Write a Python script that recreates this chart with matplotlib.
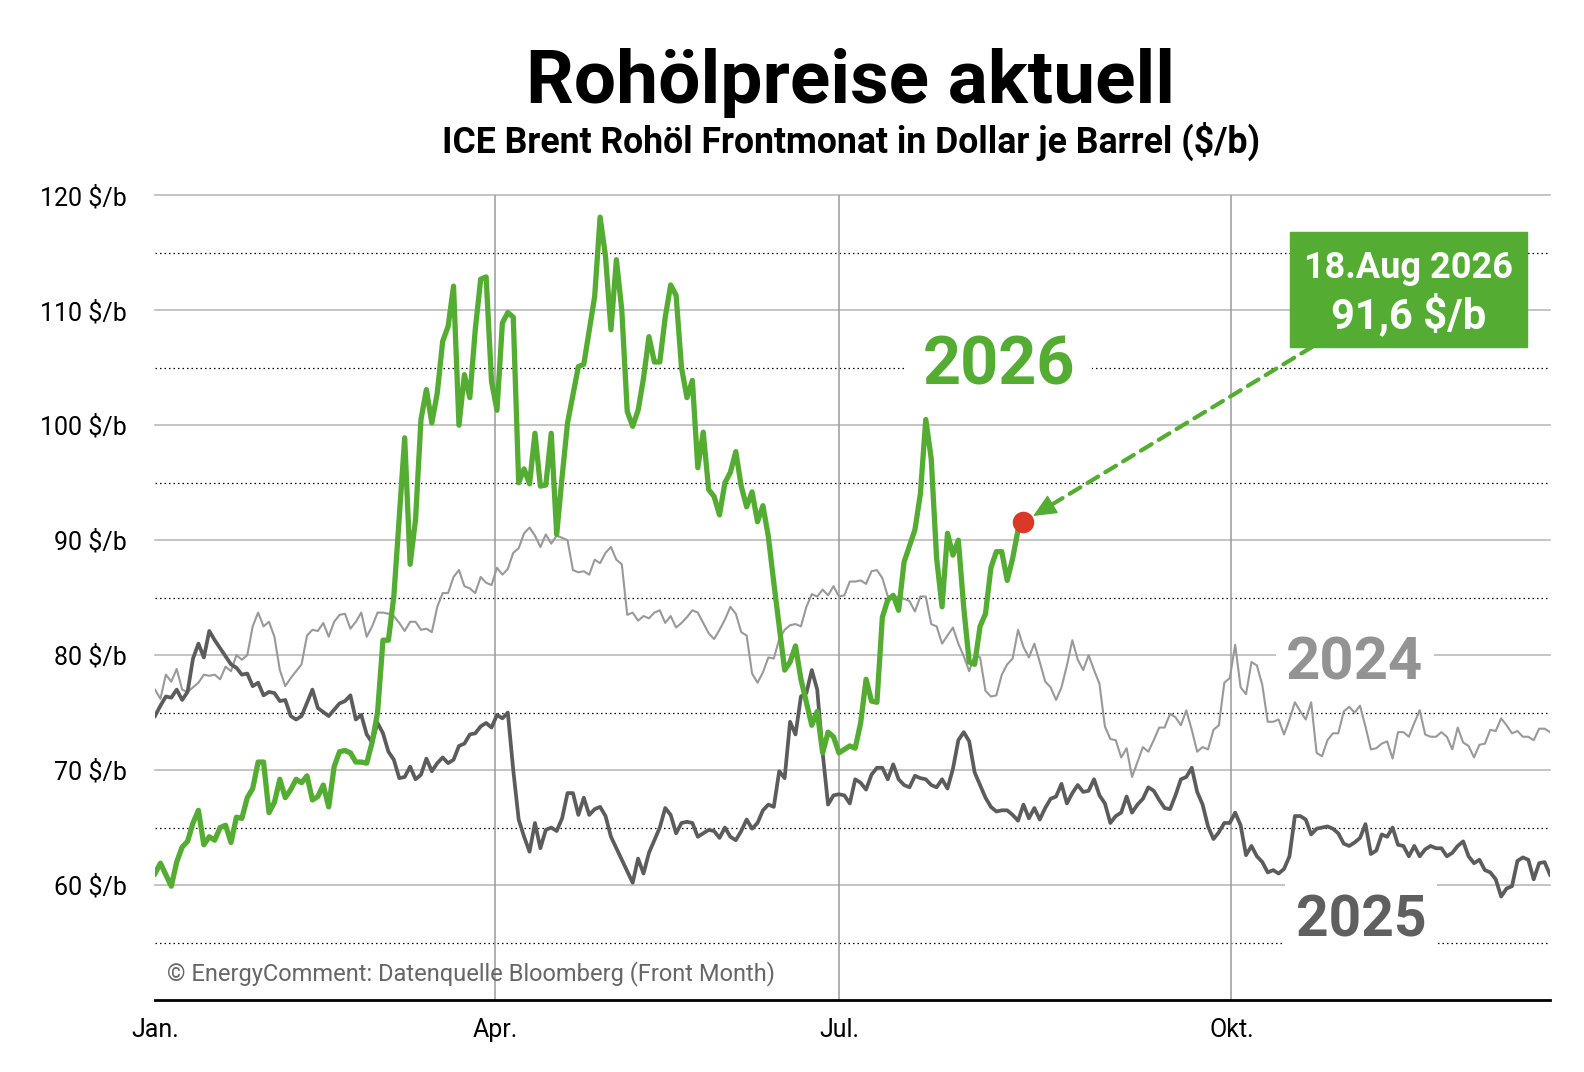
import matplotlib.pyplot as plt
from matplotlib.patches import Rectangle

plt.rcParams['font.family'] = ['Roboto', 'DejaVu Sans']

# Handelstage seit Jahresbeginn (0 = erster Handelstag) und Brent-Preise in $/b
tage_2026 = [0, 1, 3, 4, 5, 6, 7, 8, 9, 10, 11, 12, 13, 14, 15, 16, 17, 18, 19, 20,
             21, 22, 23, 24, 25, 26, 27, 28, 29, 30, 31, 32, 33, 34, 35, 36, 37, 38, 39, 40,
             41, 42, 43, 44, 46, 47, 48, 49, 50, 51, 52, 53, 54, 55, 56, 57, 58, 59, 60, 61,
             62, 63, 64, 65, 66, 67, 68, 69, 70, 71, 72, 73, 74, 75, 76, 78, 79, 81, 82, 83,
             84, 85, 86, 87, 88, 89, 90, 91, 92, 93, 94, 95, 96, 97, 98, 99, 100, 101, 102, 103,
             104, 105, 106, 107, 108, 109, 110, 111, 112, 113, 114, 116, 117, 118, 119, 121, 122, 123, 124, 125,
             126, 128, 129, 130, 131, 132, 133, 134, 135, 136, 137, 138, 139, 140, 141, 142, 143, 144, 145, 146,
             147, 148, 149, 150, 151, 152, 153, 154, 155, 156, 157, 158, 159, 160]
preis_2026 = [61.0, 61.9, 59.9, 62.0, 63.3, 63.8, 65.4, 66.5, 63.5, 64.2, 63.9, 65.0, 65.2, 63.7, 65.9, 65.8, 67.6, 68.4, 70.7, 70.7,
              66.3, 67.2, 69.2, 67.6, 68.3, 69.2, 68.9, 69.5, 67.4, 67.7, 68.7, 66.8, 70.3, 71.6, 71.7, 71.5, 70.7, 70.7, 70.6, 72.4,
              75.0, 81.3, 81.3, 85.1, 98.9, 87.9, 91.8, 100.5, 103.1, 100.2, 102.8, 107.3, 108.6, 112.1, 100.0, 104.4, 102.4, 108.3, 112.7, 112.9,
              103.8, 101.3, 108.9, 109.8, 109.4, 95.0, 96.2, 94.9, 99.3, 94.7, 94.8, 99.3, 90.5, 95.5, 100.2, 105.1, 105.3, 111.2, 118.1, 114.7,
              108.3, 114.4, 110.0, 101.2, 99.9, 101.3, 104.1, 107.7, 105.5, 105.5, 109.4, 112.2, 111.3, 105.0, 102.4, 103.9, 96.3, 99.4, 94.4, 93.8,
              92.2, 95.0, 95.9, 97.7, 94.7, 92.9, 94.2, 91.6, 93.0, 90.3, 86.3, 78.7, 79.4, 80.8, 77.9, 73.9, 75.1, 71.5, 73.3, 72.9,
              71.5, 72.1, 71.9, 74.1, 77.9, 76.0, 75.9, 83.3, 84.8, 85.2, 83.9, 88.1, 89.5, 90.9, 94.0, 100.5, 97.1, 88.4, 84.2, 90.6,
              88.7, 90.0, 84.1, 79.4, 79.2, 82.5, 83.6, 87.6, 89.0, 89.0, 86.5, 88.4, 90.9, 91.6]

tage_2025 = [0, 1, 2, 3, 4, 5, 6, 7, 8, 9, 10, 11, 12, 13, 14, 15, 16, 17, 18, 19,
             20, 21, 22, 23, 24, 25, 26, 27, 29, 30, 32, 34, 35, 36, 37, 38, 39, 40, 41, 42,
             43, 44, 45, 46, 47, 48, 49, 50, 51, 52, 53, 54, 55, 56, 57, 58, 59, 60, 61, 62,
             63, 64, 65, 66, 67, 68, 69, 70, 71, 72, 73, 74, 75, 76, 77, 78, 79, 80, 81, 82,
             83, 84, 85, 86, 87, 88, 89, 90, 91, 92, 93, 94, 95, 96, 97, 98, 99, 100, 101, 102,
             103, 104, 105, 106, 107, 108, 109, 110, 111, 112, 113, 114, 115, 116, 117, 118, 119, 120, 121, 122,
             123, 124, 125, 126, 127, 128, 129, 130, 131, 132, 133, 134, 135, 136, 137, 138, 139, 140, 141, 142,
             143, 144, 145, 146, 147, 148, 149, 150, 151, 152, 153, 154, 155, 156, 157, 158, 159, 160, 161, 162,
             163, 164, 165, 166, 167, 168, 169, 170, 171, 172, 173, 174, 175, 176, 177, 178, 179, 180, 181, 182,
             183, 184, 185, 186, 187, 188, 189, 190, 191, 192, 193, 194, 195, 196, 197, 198, 199, 200, 201, 202,
             203, 204, 205, 206, 207, 208, 209, 210, 211, 212, 213, 214, 215, 216, 217, 218, 219, 220, 221, 222,
             223, 224, 225, 226, 227, 228, 229, 230, 231, 232, 233, 234, 235, 236, 237, 238, 239, 240, 241, 242,
             243, 244, 245, 246, 247, 248, 249, 250, 251, 252, 253, 254, 255, 256, 257]
preis_2025 = [74.7, 75.6, 76.4, 76.3, 77.0, 76.1, 76.8, 79.7, 81.0, 79.8, 82.1, 81.3, 80.6, 79.9, 79.2, 78.9, 78.3, 78.4, 77.3, 77.6,
              76.5, 76.8, 76.7, 76.0, 76.1, 74.7, 74.4, 74.7, 77.0, 75.4, 74.7, 75.8, 76.0, 76.5, 74.4, 74.8, 73.1, 72.4, 74.1, 73.2,
              71.6, 70.9, 69.3, 69.4, 70.3, 69.2, 69.6, 71.0, 69.9, 70.6, 71.1, 70.6, 70.9, 72.1, 72.3, 73.1, 73.2, 73.8, 74.1, 73.7,
              74.8, 74.5, 75.0, 70.0, 65.7, 64.2, 62.9, 65.4, 63.2, 64.8, 65.0, 64.7, 65.8, 68.0, 68.0, 66.1, 67.6, 66.1, 66.6, 66.8,
              66.0, 64.2, 63.2, 62.2, 61.2, 60.2, 62.3, 61.0, 62.8, 63.9, 65.0, 66.7, 66.1, 64.5, 65.4, 65.5, 65.4, 64.2, 64.5, 64.8,
              64.7, 64.1, 65.0, 64.2, 63.9, 64.7, 65.7, 64.9, 65.4, 66.5, 67.0, 66.8, 69.9, 69.3, 74.2, 73.1, 76.4, 76.7, 78.7, 77.0,
              71.5, 67.0, 67.8, 67.9, 67.8, 67.1, 69.2, 68.9, 68.3, 69.6, 70.2, 70.2, 69.2, 70.5, 69.2, 68.7, 68.5, 69.5, 69.3, 69.2,
              68.7, 68.5, 69.2, 68.4, 70.1, 72.6, 73.3, 72.5, 69.8, 68.7, 67.6, 66.8, 66.4, 66.5, 66.5, 66.1, 65.6, 67.0, 65.8, 66.7,
              65.7, 66.7, 67.5, 67.7, 68.8, 67.1, 68.0, 68.7, 68.1, 68.2, 69.2, 67.8, 67.1, 65.4, 66.0, 66.3, 67.7, 66.3, 67.0, 67.5,
              68.5, 68.2, 67.4, 66.7, 66.6, 67.8, 69.2, 69.4, 70.2, 68.1, 67.0, 65.1, 64.0, 64.6, 65.4, 65.4, 66.3, 65.2, 62.6, 63.4,
              62.5, 62.0, 61.1, 61.3, 61.0, 61.4, 62.5, 66.0, 66.0, 65.7, 64.4, 64.9, 65.0, 65.1, 64.9, 64.5, 63.6, 63.4, 63.7, 64.1,
              65.3, 62.7, 63.0, 64.4, 64.2, 65.0, 63.5, 63.4, 62.5, 63.4, 62.5, 63.1, 63.4, 63.2, 63.2, 62.5, 62.8, 63.4, 63.8, 62.5,
              61.9, 62.2, 61.3, 61.1, 60.5, 59.0, 59.7, 59.9, 62.1, 62.4, 62.2, 60.5, 61.9, 62.0, 60.9]

tage_2024 = [0, 1, 2, 3, 4, 5, 6, 8, 9, 10, 11, 12, 13, 14, 15, 16, 17, 18, 19, 20,
             21, 22, 23, 24, 25, 26, 27, 28, 29, 30, 31, 32, 33, 34, 35, 36, 37, 38, 39, 40,
             41, 42, 43, 44, 45, 46, 47, 48, 49, 50, 51, 52, 53, 54, 55, 56, 57, 58, 59, 60,
             61, 62, 63, 64, 65, 66, 67, 68, 69, 70, 71, 72, 73, 74, 75, 76, 77, 78, 79, 80,
             81, 82, 83, 84, 85, 86, 87, 88, 89, 90, 91, 92, 93, 94, 95, 96, 97, 98, 99, 100,
             101, 102, 103, 104, 105, 106, 107, 108, 109, 110, 111, 112, 113, 114, 115, 116, 117, 118, 119, 120,
             121, 122, 123, 124, 125, 126, 127, 128, 129, 130, 131, 132, 133, 134, 135, 136, 137, 138, 139, 140,
             141, 142, 143, 144, 145, 146, 147, 148, 149, 150, 151, 152, 153, 154, 155, 156, 157, 158, 159, 160,
             161, 162, 163, 164, 165, 166, 167, 168, 169, 170, 171, 172, 173, 174, 175, 176, 177, 178, 179, 180,
             181, 182, 183, 184, 185, 186, 187, 188, 189, 190, 191, 192, 193, 194, 195, 196, 197, 198, 199, 200,
             201, 202, 203, 204, 205, 206, 207, 208, 209, 210, 211, 212, 213, 214, 215, 216, 217, 218, 219, 220,
             221, 222, 223, 224, 225, 226, 227, 228, 229, 230, 231, 232, 233, 234, 235, 236, 237, 238, 239, 240,
             241, 242, 243, 244, 245, 246, 247, 248, 249, 250, 251, 252, 253, 254, 255, 256, 257]
preis_2024 = [77.0, 76.2, 78.3, 77.7, 78.8, 77.0, 76.8, 77.6, 78.3, 78.2, 78.3, 77.9, 79.0, 78.6, 80.0, 79.6, 80.0, 82.5, 83.7, 82.5,
              82.9, 81.6, 78.7, 77.3, 78.0, 78.6, 79.2, 81.7, 82.2, 82.1, 82.8, 81.6, 82.9, 83.5, 83.6, 82.3, 82.9, 83.7, 81.6, 82.5,
              83.7, 83.7, 83.6, 83.4, 82.8, 82.1, 82.9, 82.9, 82.2, 82.3, 82.0, 84.2, 85.4, 85.4, 86.8, 87.4, 86.0, 85.8, 85.4, 86.8,
              86.3, 86.1, 87.6, 87.0, 87.5, 88.9, 89.3, 90.6, 91.1, 90.4, 89.4, 90.5, 89.7, 90.4, 90.2, 90.0, 87.4, 87.2, 87.3, 87.0,
              88.3, 88.0, 88.9, 89.4, 88.3, 87.9, 83.5, 83.7, 83.0, 83.4, 83.2, 83.7, 83.9, 82.8, 83.4, 82.4, 82.8, 83.3, 83.9, 83.7,
              82.8, 81.9, 81.4, 82.2, 83.1, 84.2, 83.6, 82.0, 81.7, 78.4, 77.6, 78.5, 79.8, 79.7, 81.4, 82.2, 82.6, 82.7, 82.5, 84.2,
              85.3, 85.1, 85.7, 85.2, 86.0, 85.1, 85.2, 86.4, 86.4, 86.5, 86.2, 87.3, 87.4, 86.7, 85.1, 85.2, 85.0, 84.9, 84.7, 83.8,
              85.1, 85.1, 82.7, 82.5, 81.0, 81.7, 82.4, 81.0, 79.9, 78.6, 80.0, 79.8, 76.9, 76.4, 76.5, 78.3, 79.2, 79.7, 82.2, 80.7,
              79.8, 81.0, 79.4, 77.7, 77.2, 76.1, 77.2, 79.1, 81.3, 79.6, 78.7, 80.0, 78.7, 77.5, 73.8, 72.7, 72.6, 71.1, 71.9, 69.4,
              70.7, 72.0, 71.6, 72.6, 73.7, 73.7, 74.9, 74.6, 73.9, 75.2, 73.5, 71.6, 72.0, 71.8, 73.5, 73.9, 77.6, 78.0, 80.9, 77.2,
              76.6, 79.4, 79.1, 77.4, 74.2, 74.2, 74.4, 73.1, 74.4, 75.9, 75.1, 74.4, 75.9, 71.5, 71.2, 72.6, 73.2, 73.2, 75.1, 75.5,
              75.0, 75.6, 73.8, 71.8, 71.9, 72.3, 72.5, 71.0, 73.3, 73.3, 72.9, 74.1, 75.2, 73.1, 72.9, 72.9, 73.3, 72.9, 71.8, 73.7,
              72.4, 72.1, 71.1, 72.2, 72.3, 73.5, 73.4, 74.5, 73.9, 73.2, 73.4, 72.9, 72.9, 72.6, 73.6, 73.6, 73.3]

monat_pos = [0, 62.7, 126.0, 198.3]
monat_txt = ['Jan.', 'Apr.', 'Jul.', 'Okt.']
y_werte = [60, 70, 80, 90, 100, 110, 120]
y_punktiert = [55, 65, 75, 85, 95, 105, 115]

stand_datum = '18.Aug 2026'
stand_preis = '91,6 $/b'

GRUEN = '#54ad32'
DUNKEL = '#5c5c5c'
HELL = '#999999'

W, H = 1584, 1072
fig = plt.figure(figsize=(W / 100, H / 100), dpi=100)
ax = fig.add_axes([155 / W, 1 - 1000 / H, (1550 - 155) / W, (1000 - 195.3) / H])
ax.set_xlim(0, 257)
ax.set_ylim(50, 120)

# Gitter: durchgezogen bei vollen 10ern, punktiert dazwischen
for y in y_werte:
    ax.axhline(y, color='#b4b4b4', lw=1.1, zorder=0.5, clip_on=False)
for y in y_punktiert:
    ax.axhline(y, color='black', lw=0.9, ls=(0, (1.2, 2.4)), zorder=0.5)
for x in monat_pos[1:]:
    ax.axvline(x, color='#9a9a9a', lw=1.1, zorder=0.6)

ax.plot(tage_2024, preis_2024, color=HELL, lw=1.5, zorder=2)
ax.plot(tage_2025, preis_2025, color=DUNKEL, lw=2.7, zorder=3)
ax.plot(tage_2026, preis_2026, color=GRUEN, lw=3.8, zorder=4)
ax.plot(tage_2026[-1], preis_2026[-1], 'o', color='#d93a27', ms=14.5, zorder=5)

# Jahreslabels mit weissem Hintergrund
ax.text(0.6048, 0.7655, '2026', transform=ax.transAxes, ha='center', va='baseline',
        fontsize=48, fontweight='bold', color=GRUEN, zorder=1,
        bbox=dict(boxstyle='square,pad=0.25', fc='white', ec='none'))
ax.text(0.8602, 0.3977, '2024', transform=ax.transAxes, ha='center', va='baseline',
        fontsize=43, fontweight='bold', color='#939393', zorder=1,
        bbox=dict(boxstyle='square,pad=0.17', fc='white', ec='none'))
ax.text(0.8647, 0.0787, '2025', transform=ax.transAxes, ha='center', va='baseline',
        fontsize=41, fontweight='bold', color='#5f5f5f', zorder=1,
        bbox=dict(boxstyle='square,pad=0.19', fc='white', ec='none'))

# gestrichelter Pfeil vom Kasten zum letzten Wert: Linie und Spitze getrennt
ax.annotate('', xy=(tage_2026[-1], preis_2026[-1]), xytext=(1312 / W, 1 - 347 / H),
            textcoords='figure fraction',
            arrowprops=dict(arrowstyle='-', color=GRUEN, lw=3, ls=(0, (3, 2)),
                            shrinkA=0, shrinkB=20),
            zorder=4.5)
ax.annotate('', xy=(tage_2026[-1], preis_2026[-1]), xytext=(21, 12.6),
            textcoords='offset points',
            arrowprops=dict(arrowstyle='-|>,head_length=1.0,head_width=0.45', mutation_scale=15,
                            color=GRUEN, lw=1, shrinkA=0, shrinkB=8),
            zorder=4.5)

# Kasten mit aktuellem Wert
fig.add_artist(Rectangle((1290 / W, 1 - 347.3 / H), 236.7 / W, 115.6 / H,
                         transform=fig.transFigure, color=GRUEN, zorder=5))
fig.text(1409 / W, 1 - 278.3 / H, stand_datum, ha='center', va='baseline', color='white',
         fontsize=26, fontweight='bold', zorder=6)
fig.text(1409 / W, 1 - 328.3 / H, stand_preis, ha='center', va='baseline', color='white',
         fontsize=30, fontweight='bold', zorder=6)

fig.text(851 / W, 1 - 103 / H, 'Rohölpreise aktuell', ha='center', va='baseline',
         fontsize=54, fontweight='bold')
fig.text(851 / W, 1 - 153 / H, 'ICE Brent Rohöl Frontmonat in Dollar je Barrel ($/b)',
         ha='center', va='baseline', fontsize=25.7, fontweight='bold')
fig.text(167 / W, 1 - 974 / H, '© EnergyComment: Datenquelle Bloomberg (Front Month)',
         va='center', fontsize=17, color='#666666')

ax.set_xticks(monat_pos, monat_txt)
ax.set_yticks(y_werte, [f'{v} $/b' for v in y_werte])
ax.tick_params(axis='x', length=0, pad=13, labelsize=18)
ax.tick_params(axis='y', length=0, pad=20, labelsize=18)
for s in ['top', 'right', 'left']:
    ax.spines[s].set_visible(False)
ax.spines['bottom'].set_color('black')
ax.spines['bottom'].set_linewidth(2)
ax.spines['bottom'].set_zorder(6)

fig.savefig('out.png', dpi=100)
